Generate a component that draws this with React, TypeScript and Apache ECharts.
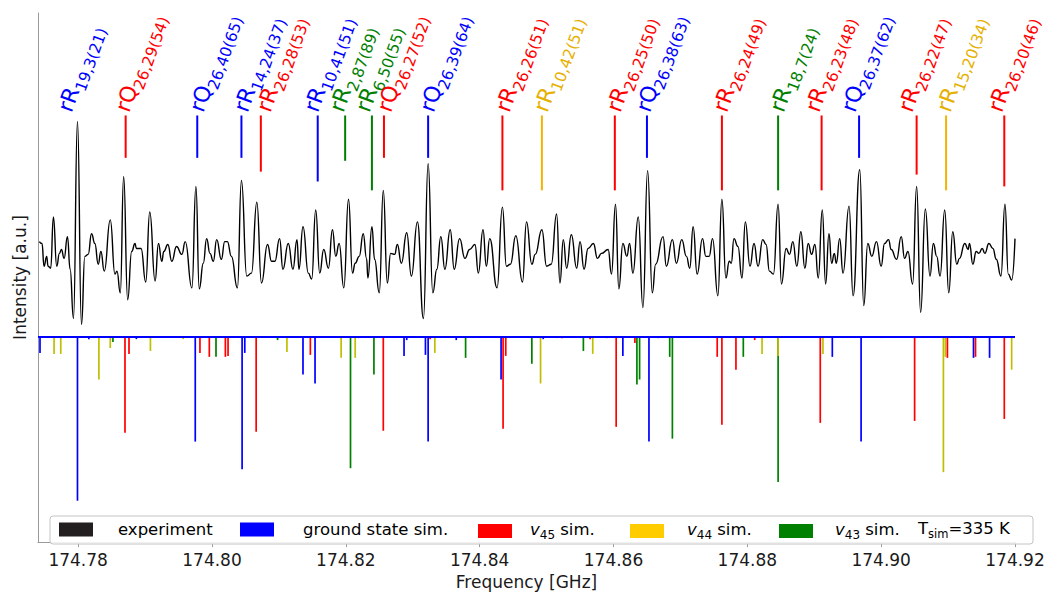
import React, { useEffect, useRef } from 'react';
import * as echarts from 'echarts';

const FONT = 'DejaVu Sans';

// ---------- experimental trace (frequency in GHz, intensity in a.u.) ----------
const expFreq = [
  174.7742, 174.7746, 174.7749, 174.7753, 174.7755, 174.7759, 174.7763, 174.7768, 174.7772, 174.7775,
  174.7779, 174.7784, 174.7788, 174.7793, 174.7799, 174.7805, 174.7810, 174.7815, 174.7820, 174.7825,
  174.7830, 174.7834, 174.7839, 174.7848, 174.7855, 174.7858, 174.7863, 174.7868, 174.7874, 174.7880,
  174.7885, 174.7887, 174.7894, 174.7901, 174.7907, 174.7915, 174.7920, 174.7925, 174.7928, 174.7934,
  174.7940, 174.7947, 174.7955, 174.7960, 174.7970, 174.7976, 174.7981, 174.7987, 174.7992, 174.7997,
  174.8002, 174.8007, 174.8014, 174.8019, 174.8023, 174.8029, 174.8038, 174.8044, 174.8052, 174.8059,
  174.8067, 174.8074, 174.8083, 174.8089, 174.8094, 174.8101, 174.8106, 174.8114, 174.8121, 174.8127,
  174.8130, 174.8136, 174.8144, 174.8149, 174.8155, 174.8161, 174.8167, 174.8174, 174.8180, 174.8185,
  174.8190, 174.8197, 174.8204, 174.8210, 174.8214, 174.8220, 174.8226, 174.8231, 174.8233, 174.8239,
  174.8243, 174.8250, 174.8256, 174.8262, 174.8267, 174.8273, 174.8277, 174.8283, 174.8291, 174.8298,
  174.8307, 174.8316, 174.8323, 174.8330, 174.8336, 174.8342, 174.8348, 174.8356, 174.8362, 174.8370,
  174.8378, 174.8385, 174.8393, 174.8398, 174.8405, 174.8410, 174.8415, 174.8426, 174.8434, 174.8440,
  174.8446, 174.8454, 174.8464, 174.8470, 174.8478, 174.8483, 174.8493, 174.8500, 174.8507, 174.8515,
  174.8520, 174.8525, 174.8530, 174.8537, 174.8545, 174.8550, 174.8556, 174.8562, 174.8570, 174.8576,
  174.8582, 174.8592, 174.8597, 174.8603, 174.8608, 174.8614, 174.8620, 174.8624, 174.8629, 174.8637,
  174.8644, 174.8651, 174.8658, 174.8663, 174.8674, 174.8679, 174.8688, 174.8694, 174.8702, 174.8709,
  174.8714, 174.8719, 174.8725, 174.8733, 174.8738, 174.8743, 174.8748, 174.8756, 174.8762, 174.8768,
  174.8773, 174.8776, 174.8780, 174.8786, 174.8792, 174.8797, 174.8804, 174.8810, 174.8816, 174.8823,
  174.8828, 174.8833, 174.8839, 174.8846, 174.8851, 174.8858, 174.8863, 174.8868, 174.8874, 174.8880,
  174.8886, 174.8891, 174.8896, 174.8901, 174.8906, 174.8912, 174.8917, 174.8922, 174.8926, 174.8930,
  174.8933, 174.8938, 174.8943, 174.8952, 174.8958, 174.8968, 174.8974, 174.8980, 174.8986, 174.8993,
  174.9000, 174.9005, 174.9011, 174.9015, 174.9023, 174.9030, 174.9035, 174.9040, 174.9047, 174.9053,
  174.9059, 174.9066, 174.9073, 174.9078, 174.9083, 174.9088, 174.9095, 174.9101, 174.9107, 174.9113,
  174.9117, 174.9125, 174.9130, 174.9132, 174.9137, 174.9142, 174.9146, 174.9151, 174.9155, 174.9161,
  174.9167, 174.9172, 174.9179, 174.9185, 174.9190, 174.9195, 174.9200,
];
const expInt = [
  0.97, 0.95, 0.72, 0.82, 0.72, 0.70, 1.22, 0.72, 0.85, 0.89,
  0.80, 1.02, 0.69, 0.19, 2.19, 0.13, 0.82, 0.84, 1.05, 0.95,
  0.74, 0.87, 0.67, 1.19, 0.64, 0.67, 0.45, 1.63, 0.38, 0.87,
  0.95, 0.90, 0.90, 0.56, 1.27, 0.57, 0.95, 0.77, 0.87, 0.94,
  0.77, 0.92, 0.84, 0.97, 0.50, 1.53, 0.49, 0.75, 1.00, 0.85,
  0.77, 0.99, 0.79, 0.97, 0.97, 0.82, 0.50, 1.59, 0.62, 0.65,
  1.37, 0.55, 0.94, 0.77, 0.77, 1.00, 0.69, 0.95, 0.69, 0.99,
  0.69, 1.12, 0.65, 0.59, 1.29, 0.65, 0.89, 0.70, 1.09, 0.82,
  0.95, 0.50, 1.40, 0.65, 0.75, 0.82, 1.05, 0.80, 0.60, 1.12,
  0.79, 0.45, 1.49, 0.55, 0.85, 0.84, 0.94, 0.75, 1.06, 0.62,
  1.17, 0.19, 1.76, 0.45, 0.69, 1.02, 0.69, 1.09, 0.69, 1.00,
  0.80, 0.89, 0.94, 0.65, 1.09, 0.72, 1.00, 0.50, 1.32, 0.72,
  0.74, 1.03, 0.56, 1.17, 0.74, 0.84, 1.09, 0.72, 0.74, 1.25,
  0.55, 0.99, 0.70, 1.04, 0.70, 0.97, 0.69, 0.90, 0.95, 0.80,
  0.85, 0.89, 0.64, 1.35, 0.49, 0.95, 0.82, 0.95, 0.65, 1.22,
  0.30, 1.69, 0.45, 0.74, 1.02, 0.72, 0.99, 0.75, 0.99, 0.82,
  0.70, 1.12, 0.64, 1.00, 0.82, 0.82, 1.00, 0.42, 1.40, 0.60,
  0.77, 0.75, 1.00, 0.92, 0.60, 1.17, 0.72, 0.95, 0.72, 0.99,
  0.94, 0.67, 0.64, 1.35, 0.54, 0.90, 0.84, 0.97, 0.72, 1.07,
  0.70, 0.95, 0.84, 0.94, 0.60, 1.29, 0.54, 1.05, 0.75, 0.85,
  0.75, 1.00, 0.65, 1.33, 0.42, 1.70, 0.32, 0.95, 0.82, 0.97,
  0.72, 0.95, 0.99, 0.89, 0.79, 1.02, 0.80, 0.87, 0.54, 1.53,
  0.25, 1.30, 0.62, 0.95, 0.82, 0.62, 1.29, 0.45, 1.07, 0.74,
  0.80, 0.95, 0.89, 0.95, 0.74, 0.87, 0.85, 0.90, 0.85, 0.95,
  0.90, 0.79, 0.62, 1.35, 0.64, 0.58, 1.00,
];

// ---------- simulated stick spectra (drawn downwards) ----------
const gsFreq = [174.7743, 174.7799, 174.7816, 174.7887, 174.7975, 174.8045, 174.8049, 174.8136, 174.8154, 174.8287, 174.8291, 174.8319, 174.8323, 174.8365, 174.8432, 174.8495, 174.8614, 174.8653, 174.8667, 174.8927, 174.8970, 174.9138, 174.9162];
const gsInt = [-0.16, -1.66, -0.02, -0.02, -1.06, -1.34, -0.16, -0.38, -0.47, -0.19, -0.03, -0.18, -1.06, -0.03, -0.43, -0.02, -0.19, -1.06, -0.01, -0.20, -1.06, -0.21, -0.21];

const v45Freq = [174.7870, 174.7876, 174.7982, 174.7996, 174.8020, 174.8024, 174.8066, 174.8147, 174.8219, 174.8256, 174.8326, 174.8435, 174.8439, 174.8523, 174.8565, 174.8604, 174.8632, 174.8755, 174.8762, 174.8783, 174.8811, 174.8909, 174.9050, 174.9099, 174.9141, 174.9184];
const v45Int = [-0.97, -0.17, -0.16, -0.20, -0.20, -0.19, -0.96, -0.18, -0.01, -0.95, -0.02, -0.93, -0.19, -0.01, -0.02, -0.91, -0.06, -0.20, -0.89, -0.33, -0.03, -0.87, -0.85, -0.21, -0.20, -0.83];

const v44Freq = [174.7764, 174.7774, 174.7831, 174.7848, 174.7908, 174.7957, 174.8112, 174.8193, 174.8214, 174.8333, 174.8491, 174.8516, 174.8569, 174.8822, 174.8846, 174.8913, 174.9001, 174.9093, 174.9096, 174.9195];
const v44Int = [-0.17, -0.17, -0.43, -0.11, -0.14, -0.02, -0.15, -0.21, -0.21, -0.16, -0.47, -0.01, -0.17, -0.17, -0.19, -0.17, -0.01, -1.37, -0.20, -0.33];

const v43Freq = [174.7852, 174.8006, 174.8098, 174.8207, 174.8242, 174.8379, 174.8478, 174.8555, 174.8590, 174.8635, 174.8639, 174.8684, 174.8688, 174.8794, 174.8846];
const v43Int = [-0.05, -0.20, -0.03, -1.33, -0.38, -0.21, -0.27, -0.14, -0.01, -0.48, -0.43, -0.20, -1.03, -0.20, -1.47];

// ---------- line assignments ----------
const labelMain = ['rR', 'rQ', 'rQ', 'rR', 'rR', 'rR', 'rR', 'rR', 'rQ', 'rQ', 'rR', 'rR', 'rR', 'rQ', 'rR', 'rR', 'rR', 'rQ', 'rR', 'rR', 'rR'];
const labelSub = ['19,3(21)', '26,29(54)', '26,40(65)', '14,24(37)', '26,28(53)', '10,41(51)', '2,87(89)', '6,50(55)', '26,27(52)', '26,39(64)', '26,26(51)', '10,42(51)', '26,25(50)', '26,38(63)', '26,24(49)', '18,7(24)', '26,23(48)', '26,37(62)', '26,22(47)', '15,20(34)', '26,20(46)'];
const labelState = ['gs', 'v45', 'gs', 'gs', 'v45', 'gs', 'v43', 'v43', 'v45', 'gs', 'v45', 'v44', 'v45', 'gs', 'v45', 'v43', 'v45', 'gs', 'v45', 'v44', 'v45'];
const labelFreq = [174.7802, 174.7888, 174.7999, 174.8065, 174.8099, 174.8170, 174.8208, 174.8247, 174.8279, 174.8343, 174.8456, 174.8513, 174.8622, 174.8666, 174.8781, 174.8866, 174.8919, 174.8973, 174.9058, 174.9115, 174.9192];
const markerFreq = [null, 174.7871, 174.7978, 174.8044, 174.8073, 174.8158, 174.8199, 174.8239, 174.8257, 174.8323, 174.8434, 174.8493, 174.8602, 174.8650, 174.8762, 174.8846, 174.8911, 174.8967, 174.9053, 174.9097, 174.9184];
const markerLow = [null, 1.82, 1.82, 1.82, 1.68, 1.58, 1.79, 1.49, 1.82, 1.82, 1.49, 1.49, 1.49, 1.82, 1.49, 1.49, 1.49, 1.82, 1.65, 1.49, 1.53];
const MARKER_TOP = 2.25;
const LABEL_BASE = 2.24;

const xTicks = [174.78, 174.8, 174.82, 174.84, 174.86, 174.88, 174.9, 174.92];

const stickColor: Record<string, string> = { gs: '#0000ff', v45: '#ff0000', v44: '#bfbf00', v43: '#008000' };
const textColor: Record<string, string> = { gs: '#0000ff', v45: '#ff0000', v44: '#e6b000', v43: '#008000' };
const markColor: Record<string, string> = { gs: '#0000ff', v45: '#ff0000', v44: '#f2b400', v43: '#008000' };

function stickSeries(name: string, freqs: number[], ints: number[], color: string, z: number, extra: any = {}) {
  return {
    type: 'custom',
    name,
    z,
    clip: false,
    silent: true,
    data: freqs.map((f, i) => [f, ints[i]]),
    encode: { x: 0, y: 1 },
    renderItem: (params: any, api: any) => {
      const p0 = api.coord([api.value(0), 0]);
      const p1 = api.coord([api.value(0), api.value(1)]);
      return {
        type: 'line',
        shape: { x1: p0[0], y1: p0[1], x2: p1[0], y2: p1[1] },
        style: { stroke: color, lineWidth: 1.7 },
      };
    },
    ...extra,
  };
}

const legendDefs = [
  { name: 'experiment', left: 59, color: '#231f20', text: '{a|experiment}', pad: 20 },
  { name: 'ground state sim.', left: 240, color: '#0000ff', text: '{a|ground state sim.}', pad: 24 },
  { name: 'v45 sim.', left: 478, color: '#ff0000', text: '{i|v}{s|45}{n| sim.}', pad: 13 },
  { name: 'v44 sim.', left: 630, color: '#ffcc00', text: '{i|v}{s|44}{n| sim.}', pad: 18 },
  { name: 'v43 sim.', left: 779, color: '#008000', text: '{i|v}{s|43}{n| sim.}', pad: 17 },
];

export default function App() {
  const ref = useRef<HTMLDivElement>(null);
  useEffect(() => {
    if (!ref.current) return;
    const chart = echarts.init(ref.current, null, { renderer: 'svg' });
    const ROT = (70 * Math.PI) / 180;

    const option: any = {
      animation: false,
      backgroundColor: '#ffffff',
      grid: { left: 38, right: 33, top: 13, bottom: 45 },
      xAxis: {
        type: 'value',
        min: 174.774,
        max: 174.92,
        axisLine: { show: true, onZero: false, lineStyle: { color: '#9a9a9a', width: 1 } },
        axisTick: { show: true, customValues: xTicks, length: 5, lineStyle: { color: '#9a9a9a' } },
        axisLabel: {
          customValues: xTicks,
          formatter: (v: number) => v.toFixed(2),
          fontFamily: FONT,
          fontSize: 17,
          color: '#1a1a1a',
          margin: 9,
          hideOverlap: false,
        },
        splitLine: { show: false },
        name: 'Frequency [GHz]',
        nameLocation: 'middle',
        nameGap: 28,
        nameTextStyle: { fontFamily: FONT, fontSize: 17, color: '#1a1a1a' },
      },
      yAxis: {
        type: 'value',
        min: -2.08,
        max: 3.29,
        axisLine: { show: true, onZero: false, lineStyle: { color: '#9a9a9a', width: 1 } },
        axisTick: { show: false },
        axisLabel: { show: false },
        splitLine: { show: false },
        name: 'Intensity [a.u.]',
        nameLocation: 'middle',
        nameRotate: 90,
        nameGap: 10,
        nameTextStyle: { fontFamily: FONT, fontSize: 17, color: '#1a1a1a' },
      },
      legend: legendDefs.map((d) => ({
        left: d.left,
        top: 521,
        padding: 0,
        z: 10,
        itemWidth: 34,
        itemHeight: 14,
        selectedMode: false,
        data: [{ name: d.name, icon: 'rect', itemStyle: { color: d.color } }],
        formatter: () => d.text,
        textStyle: {
          fontFamily: FONT,
          fontSize: 16.5,
          color: '#000',
          rich: {
            a: { fontFamily: FONT, fontSize: 16.5, color: '#000', padding: [0, 0, 0, d.pad] },
            i: { fontFamily: FONT, fontSize: 16.5, fontStyle: 'italic', color: '#000', padding: [0, 0, 3, d.pad], verticalAlign: 'bottom' },
            s: { fontFamily: FONT, fontSize: 12, color: '#000', verticalAlign: 'bottom' },
            n: { fontFamily: FONT, fontSize: 16.5, color: '#000', padding: [0, 0, 3, 0], verticalAlign: 'bottom' },
          },
        },
      })),
      graphic: [
        {
          type: 'rect',
          z: 3,
          silent: true,
          shape: { x: 50, y: 516, width: 983, height: 28, r: 3 },
          style: { fill: 'rgba(255,255,255,0.85)', stroke: '#c4c4c4', lineWidth: 1 },
        },
        {
          type: 'text',
          z: 10,
          x: 918,
          y: 530,
          style: {
            text: '{t|T}{s|sim}{t|=335 K}',
            verticalAlign: 'middle',
            rich: {
              t: { fontFamily: FONT, fontSize: 16.5, fill: '#000', padding: [0, 0, 3, 0], verticalAlign: 'bottom' },
              s: { fontFamily: FONT, fontSize: 11.5, fill: '#000', verticalAlign: 'bottom' },
            },
          },
        },
      ],
      series: [
        stickSeries('v43 sim.', v43Freq, v43Int, stickColor.v43, 2),
        stickSeries('v44 sim.', v44Freq, v44Int, stickColor.v44, 2),
        stickSeries('v45 sim.', v45Freq, v45Int, stickColor.v45, 2),
        stickSeries('ground state sim.', gsFreq, gsInt, stickColor.gs, 2, {
          markLine: {
            silent: true,
            symbol: 'none',
            label: { show: false },
            lineStyle: { color: '#0000ff', width: 2, type: 'solid' },
            data: [{ yAxis: 0 }],
          },
        }),
        {
          type: 'line',
          name: 'experiment',
          z: 3,
          data: expFreq.map((f, i) => [f, expInt[i]]),
          showSymbol: false,
          symbol: 'none',
          smooth: 0.5,
          smoothMonotone: 'x',
          lineStyle: { color: '#000000', width: 1.4 },
          itemStyle: { color: '#000000' },
        },
        {
          type: 'custom',
          name: 'assignments',
          z: 6,
          clip: false,
          silent: true,
          data: labelFreq.map((f) => [f, LABEL_BASE]),
          encode: { x: 0, y: 1 },
          renderItem: (params: any, api: any) => {
            const i = params.dataIndex;
            const st = labelState[i];
            const children: any[] = [];
            const mf = markerFreq[i];
            const ml = markerLow[i];
            if (mf != null && ml != null) {
              const a = api.coord([mf, MARKER_TOP]);
              const b = api.coord([mf, ml]);
              children.push({
                type: 'line',
                shape: { x1: a[0], y1: a[1], x2: b[0], y2: b[1] },
                style: { stroke: markColor[st], lineWidth: 2 },
              });
            }
            const p = api.coord([api.value(0), api.value(1)]);
            const c = textColor[st];
            children.push({
              type: 'text',
              x: p[0],
              y: p[1],
              rotation: ROT,
              style: {
                text: `{m|${labelMain[i]}}{s|${labelSub[i]}}`,
                fill: c,
                align: 'left',
                verticalAlign: 'bottom',
                rich: {
                  m: { fontFamily: FONT, fontSize: 22, fill: c, padding: [0, 0, 5, 0], verticalAlign: 'bottom' },
                  s: { fontFamily: FONT, fontSize: 15.5, fill: c, verticalAlign: 'bottom' },
                },
              },
            });
            return { type: 'group', children };
          },
        },
      ],
    };
    chart.setOption(option);
    return () => chart.dispose();
  }, []);
  return (
    <div
      ref={ref}
      style={{ position: 'fixed', left: 0, top: 0, width: '1048px', height: '595px', background: '#fff' }}
    />
  );
}
